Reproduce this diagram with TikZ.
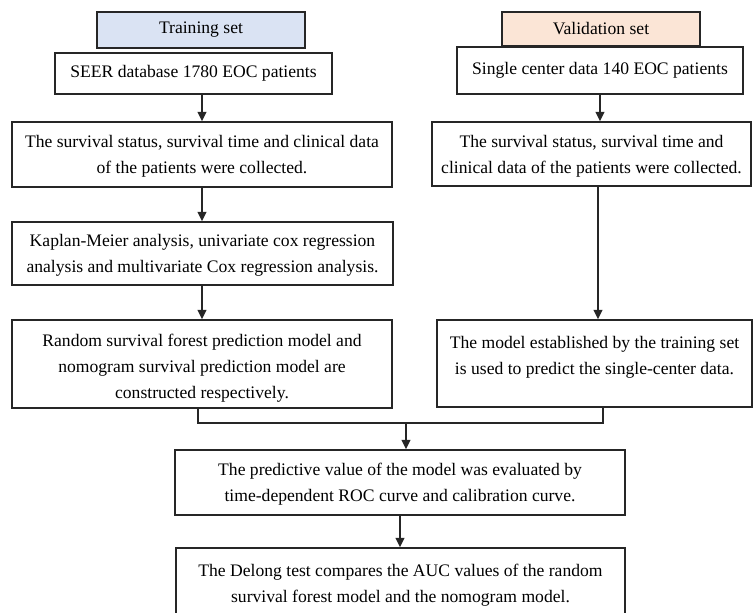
\documentclass[tikz,border=0pt]{standalone}
\usepackage{fontspec}
\setmainfont{Liberation Serif}
\usetikzlibrary{arrows.meta,calc}
\definecolor{trainfill}{HTML}{DAE3F3}
\definecolor{valfill}{HTML}{FBE5D6}
\definecolor{edge}{HTML}{262626}
\tikzset{
  box/.style={draw=edge,line width=1.1pt,fill=white,align=center,inner sep=0pt,
    font=\fontsize{13.2pt}{19.5pt}\selectfont,text=black},
  txt/.style={align=center,inner sep=0pt,font=\fontsize{13.2pt}{19.5pt}\selectfont,text=black},
  arr/.style={draw=edge,line width=1.2pt,-{Triangle[length=7pt,width=6.5pt]}},
  link/.style={draw=edge,line width=1.1pt}
}
\begin{document}
\begin{tikzpicture}[x=0.75pt,y=-0.75pt]
\useasboundingbox (0,0) rectangle (753,613);
% left column
\node[box,fill=trainfill,minimum width=156pt,minimum height=27pt] (train) at (201,30) {Training set};
\node[box,minimum width=207.75pt,minimum height=30.75pt] (seer) at (193.5,73.5) {SEER database 1780 EOC patients};
\node[box,minimum width=285pt,minimum height=48.75pt,
  label={[txt,yshift=-1.5pt]center:{The survival status, survival time and clinical data\\of the patients were collected.}}] (surv1) at (202,154.5) {};
\node[box,minimum width=285.75pt,minimum height=47.25pt,
  label={[txt,yshift=-1.5pt]center:{Kaplan-Meier analysis, univariate cox regression\\analysis and multivariate Cox regression analysis.}}] (km) at (202.5,253.5) {};
\node[box,minimum width=285pt,minimum height=66pt,
  label={[txt,yshift=-3pt]center:{Random survival forest prediction model and\\nomogram survival prediction model are\\constructed respectively.}}] (rsf) at (202,364) {};
% right column
\node[box,fill=valfill,minimum width=148.5pt,minimum height=25.5pt] (val) at (601,29) {Validation set};
\node[box,minimum width=214.5pt,minimum height=35.25pt] (single) at (600,70.5) {Single center data 140 EOC patients};
\node[box,minimum width=239.25pt,minimum height=48pt,
  label={[txt,yshift=-1.5pt]center:{The survival status, survival time and\\clinical data of the patients were collected.}}] (surv2) at (591.5,154) {};
\node[box,minimum width=236.25pt,minimum height=65.25pt,
  label={[txt,yshift=4.5pt]center:{The model established by the training set\\is used to predict the single-center data.}}] (model) at (594.5,363.5) {};
% bottom
\node[box,minimum width=337.5pt,minimum height=48.75pt,
  label={[txt,yshift=-1.5pt]center:{The predictive value of the model was evaluated by\\time-dependent ROC curve and calibration curve.}}] (pred) at (400,482.5) {};
\node[box,minimum width=336.75pt,minimum height=55.5pt] (delong) at (400.5,585) {The Delong test compares the AUC values of the random\\survival forest model and the nomogram model.};
% connectors
\draw[arr] (surv1.north |- seer.south) -- (surv1.north);
\draw[arr] (surv1.south) -- (surv1.south |- km.north);
\draw[arr] (rsf.north |- km.south) -- (rsf.north);
\draw[arr] (single.south) -- (single.south |- surv2.north);
\draw[arr] ([xshift=-1.5pt]single.south |- surv2.south) -- ([xshift=-1.5pt]single.south |- model.north);
\coordinate (jl) at (198,423);
\coordinate (jr) at (603,423);
\coordinate (jm) at (406,423);
\draw[link] (rsf.south -| jl) -- (jl) -- (jr) -- (model.south -| jr);
\draw[arr] (jm) -- (pred.north -| jm);
\draw[arr] (pred.south) -- (pred.south |- delong.north);
\end{tikzpicture}
\end{document}
